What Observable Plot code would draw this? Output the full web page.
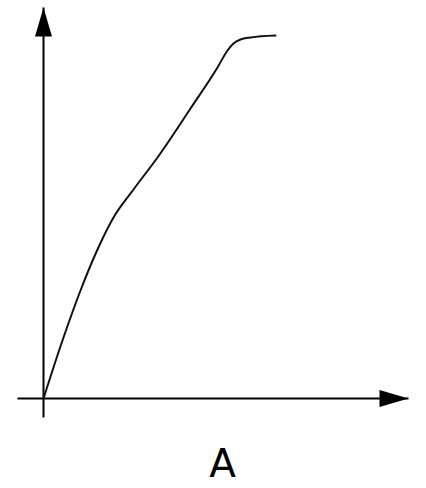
<!DOCTYPE html>
<html>
<head>
<meta charset="utf-8">
<script src="https://cdn.jsdelivr.net/npm/d3@7"></script>
<script src="https://cdn.jsdelivr.net/npm/@observablehq/plot@0.6"></script>
<style>
  html, body { margin: 0; padding: 0; background: #fff; }
</style>
</head>
<body>
<div id="chart"></div>
<script>
// Curve (units relative to the origin)
const curveX = [0, 20, 37, 54, 70, 90, 114, 147, 174, 184, 190, 197, 207, 232];
const curveY = [0, 61, 108, 149, 181, 209, 241, 290, 331, 348, 355, 359, 361, 363];
// Axis extents
const xAxisRange = [-26, 365];
const yAxisRange = [-19, 391];
const xLabel = "A";

const curve = curveX.map((x, i) => ({x, y: curveY[i]}));
const axes = [
  {x1: xAxisRange[0], y1: 0, x2: xAxisRange[1], y2: 0},
  {x1: 0, y1: yAxisRange[0], x2: 0, y2: yAxisRange[1]}
];

function arrowHead(color, context) {
  const m = d3.select(context.document.createElementNS("http://www.w3.org/2000/svg", "marker"))
    .attr("viewBox", "-30 -8.5 30 17")
    .attr("markerWidth", 30)
    .attr("markerHeight", 17)
    .attr("markerUnits", "userSpaceOnUse")
    .attr("refX", 0)
    .attr("refY", 0)
    .attr("orient", "auto")
    .attr("overflow", "visible");
  m.append("path").attr("d", "M-29,-8.5L0,0L-29,8.5Z").attr("fill", color).attr("stroke", "none");
  return m.node();
}

const chart = Plot.plot({
  width: 426,
  height: 488,
  margin: 0,
  x: {domain: xAxisRange, range: [17, 408], axis: null},
  y: {domain: yAxisRange, range: [417, 7], axis: null},
  style: {background: "#fff"},
  marks: [
    Plot.link(axes, {x1: "x1", y1: "y1", x2: "x2", y2: "y2", stroke: "#000", strokeWidth: 2, markerEnd: arrowHead}),
    Plot.line(curve, {x: "x", y: "y", stroke: "#111", strokeWidth: 2, curve: "monotone-x"}),
    Plot.text([xLabel], {x: [179], y: [-66], text: d => d, fontSize: 39, fontFamily: "DejaVu Sans", fill: "#000", lineAnchor: "middle", textAnchor: "middle"})
  ]
});
document.getElementById("chart").append(chart);
</script>
</body>
</html>
